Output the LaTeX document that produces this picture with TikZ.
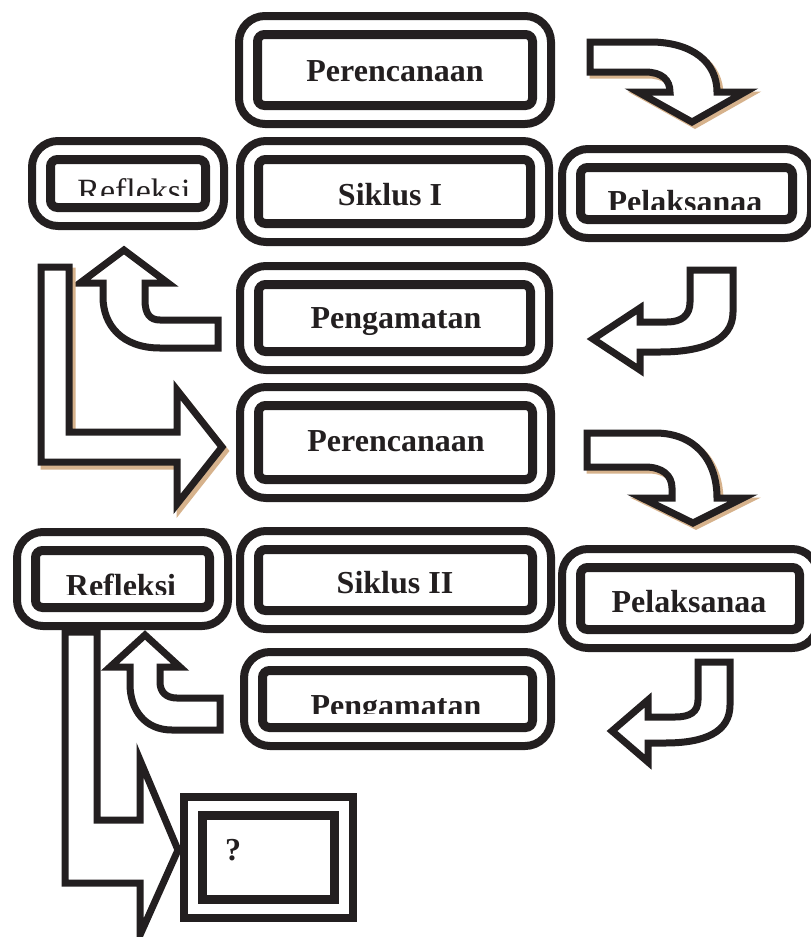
\documentclass[tikz,border=0pt]{standalone}
\usepackage{fontspec}
\setmainfont{Liberation Serif}
\definecolor{ink}{RGB}{35,31,32}
\definecolor{tanshadow}{RGB}{214,178,140}
\begin{document}
\begin{tikzpicture}[x=1pt,y=-1pt,
 outerbox/.style={draw=ink, line width=8pt, rounded corners=26pt, inner sep=0pt, outer sep=0pt},
 innerbox/.style={draw=ink, line width=9pt, rounded corners=7pt, inner sep=0pt, outer sep=0pt},
 sqouter/.style={draw=ink, line width=8pt, inner sep=0pt, outer sep=0pt},
 sqinner/.style={draw=ink, line width=9pt, inner sep=0pt, outer sep=0pt},
 lbl/.style={font=\fontsize{32}{36}\selectfont\bfseries, text=ink, anchor=base, inner sep=0pt},
 lblreg/.style={font=\fontsize{34}{38}\selectfont, text=ink, anchor=base, inner sep=0pt},
 blockarrow/.style={draw=ink, fill=white, line width=7pt, line join=miter},
 shadowarrow/.style={fill=tanshadow, draw=tanshadow, line width=7pt, line join=miter}
]
\useasboundingbox (0,0) rectangle (811,937);
\clip (0,0) rectangle (811,937);

% ---------- boxes ----------
% Perencanaan 1
\node[outerbox, minimum width=312, minimum height=108] (p1) at (395,70) {};
\node[innerbox, minimum width=275, minimum height=71] (p1in) at (p1.center) {};
\node[lbl] (p1t) at (395,81) {Perencanaan};
% Siklus I
\node[outerbox, minimum width=309, minimum height=101] (s1) at (394.5,191.5) {};
\node[innerbox, minimum width=272, minimum height=64] (s1in) at (s1.center) {};
\node[lbl] (s1t) at (390,205) {Siklus I};
% Refleksi 1
\node[outerbox, minimum width=192, minimum height=85] (r1) at (128,183.5) {};
\node[innerbox, minimum width=155, minimum height=48] (r1in) at (r1.center) {};
\begin{scope}
\clip (50,160) rectangle (206,195);
\node[lblreg] (r1t) at (134,202.5) {Refleksi};
\end{scope}
% Pelaksanaa 1
\node[outerbox, minimum width=249, minimum height=89] (l1) at (686.5,193.5) {};
\node[innerbox, minimum width=212, minimum height=52] (l1in) at (l1.center) {};
\begin{scope}
\clip (580,168) rectangle (793,209);
\node[lbl] (l1t) at (685,212) {Pelaksanaa};
\end{scope}
% Pengamatan 1
\node[outerbox, minimum width=309, minimum height=104] (g1) at (394.5,318) {};
\node[innerbox, minimum width=272, minimum height=67] (g1in) at (g1.center) {};
\node[lbl] (g1t) at (396,328) {Pengamatan};
% Perencanaan 2
\node[outerbox, minimum width=311, minimum height=111] (p2) at (395.5,442.5) {};
\node[innerbox, minimum width=274, minimum height=74] (p2in) at (p2.center) {};
\node[lbl] (p2t) at (396,451) {Perencanaan};
% Siklus II
\node[outerbox, minimum width=311, minimum height=98] (s2) at (395.5,580) {};
\node[innerbox, minimum width=274, minimum height=61] (s2in) at (s2.center) {};
\node[lbl] (s2t) at (395,593) {Siklus II};
% Refleksi 2
\node[outerbox, minimum width=211, minimum height=94] (r2) at (122.5,579) {};
\node[innerbox, minimum width=174, minimum height=57] (r2in) at (r2.center) {};
\begin{scope}
\clip (36,555) rectangle (208,594);
\node[lbl] (r2t) at (121,596) {Refleksi};
\end{scope}
% Pelaksanaa 2
\node[outerbox, minimum width=256, minimum height=99] (l2) at (690,598.5) {};
\node[innerbox, minimum width=219, minimum height=62] (l2in) at (l2.center) {};
\node[lbl] (l2t) at (689,612) {Pelaksanaa};
% Pengamatan 2
\node[outerbox, minimum width=307, minimum height=94] (g2) at (397.5,699) {};
\node[innerbox, minimum width=270, minimum height=57] (g2in) at (g2.center) {};
\begin{scope}
\clip (262,675) rectangle (533,713);
\node[lbl] (g2t) at (396,716) {Pengamatan};
\end{scope}
% ? box
\node[sqouter, minimum width=169, minimum height=121] (q) at (268.5,857.5) {};
\node[sqinner, minimum width=132, minimum height=84] (qin) at (q.center) {};
\node[lbl, anchor=center] (qt) at (233,850) {?};

% ---------- block arrows ----------
% A1: Perencanaan 1 -> Pelaksanaa 1 (with shadow)
\begin{scope}[shift={(3,3)}]
\path[shadowarrow] (590,42) -- (650,42) .. controls (692,42) and (717,62) .. (717,92) -- (745,92) -- (692,122) -- (638,92) -- (670,92) .. controls (670,80) and (662,72) .. (645,72) -- (590,72) -- cycle;
\end{scope}
\path[blockarrow] (590,42) -- (650,42) .. controls (692,42) and (717,62) .. (717,92) -- (745,92) -- (692,122) -- (638,92) -- (670,92) .. controls (670,80) and (662,72) .. (645,72) -- (590,72) -- cycle;

% A2: Pelaksanaa 1 -> Pengamatan 1
\path[blockarrow] (690,270) -- (733,270) -- (733,312) .. controls (733,342) and (700,352) .. (660,352) -- (640,352) -- (640,370) -- (593,339) -- (640,308) -- (640,322) -- (667,322) .. controls (682,322) and (690,315) .. (690,302) -- cycle;

% A5: Pengamatan 1 -> Refleksi 1
\path[blockarrow] (103,283) -- (80,283) -- (124,250) -- (168,283) -- (145,283) -- (145,300) .. controls (145,314) and (150,320) .. (160,320) -- (218,320) -- (218,348) -- (160,348) .. controls (122,348) and (103,325) .. (103,297) -- cycle;

% A7: Refleksi 1 -> Perencanaan 2 (L arrow with shadow)
\begin{scope}[shift={(3,4)}]
\path[shadowarrow] (41,267) -- (69,267) -- (69,432) -- (177,432) -- (177,390) -- (222,447) -- (177,504) -- (177,462) -- (41,462) -- cycle;
\end{scope}
\path[blockarrow] (41,267) -- (69,267) -- (69,432) -- (177,432) -- (177,390) -- (222,447) -- (177,504) -- (177,462) -- (41,462) -- cycle;

% A3: Perencanaan 2 -> Pelaksanaa 2 (with shadow)
\begin{scope}[shift={(3,3)}]
\path[shadowarrow] (587,433) -- (655,433) .. controls (695,433) and (717,460) .. (717,498) -- (743,498) -- (693,523) -- (642,498) -- (672,498) -- (672,488) .. controls (672,475) and (662,467) .. (645,467) -- (587,467) -- cycle;
\end{scope}
\path[blockarrow] (587,433) -- (655,433) .. controls (695,433) and (717,460) .. (717,498) -- (743,498) -- (693,523) -- (642,498) -- (672,498) -- (672,488) .. controls (672,475) and (662,467) .. (645,467) -- (587,467) -- cycle;

% A4: Pelaksanaa 2 -> Pengamatan 2
\path[blockarrow] (698,662) -- (730,662) -- (730,705) .. controls (730,732) and (705,743) .. (665,743) -- (648,743) -- (648,762) -- (612,731) -- (648,700) -- (648,717) -- (675,717) .. controls (690,717) and (698,712) .. (698,700) -- cycle;

% A6: Pengamatan 2 -> Refleksi 2
\path[blockarrow] (130,667) -- (110,667) -- (145,635) -- (180,667) -- (160,667) -- (160,682) .. controls (160,692) and (166,698) .. (177,698) -- (220,698) -- (220,730) -- (172,730) .. controls (145,730) and (130,710) .. (130,684) -- cycle;

% A8: Refleksi 2 -> ? (L arrow)
\path[blockarrow] (65,632) -- (97,632) -- (97,820) -- (140,820) -- (140,760) -- (178,850) -- (140,935) -- (140,883) -- (65,883) -- cycle;
\end{tikzpicture}
\end{document}
